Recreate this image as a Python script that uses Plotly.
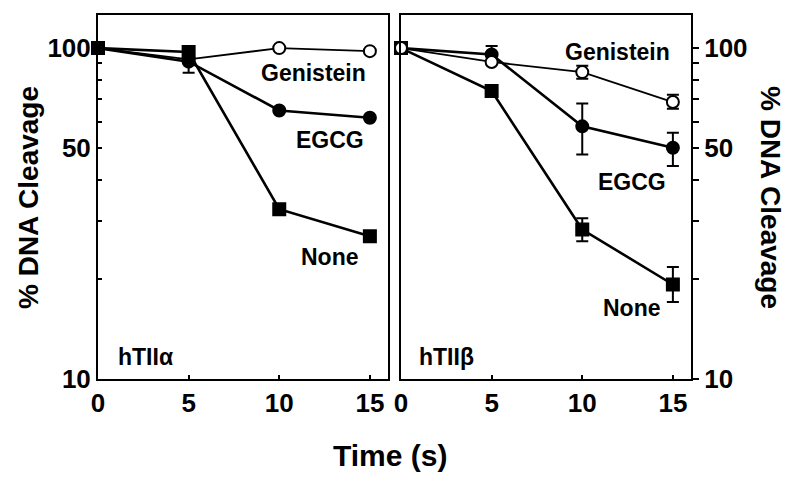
import plotly.graph_objects as go

# ---- data ----
time = [0, 5, 10, 15]

# hTIIalpha panel
a_none = [100, 97.3, 32.6, 27.0]
a_none_err = [0, 0, 0, 0.9]
a_egcg = [100, 91.0, 64.8, 61.6]
a_egcg_err = [0, 6.7, 0, 0]
a_gen = [100, 92.4, 100, 97.9]

# hTIIbeta panel
b_none = [100, 74.2, 28.3, 19.3]
b_none_plus = [0, 0, 2.3, 2.5]
b_none_minus = [0, 0, 2.2, 2.2]
b_egcg = [100, 95.7, 58.0, 50.0]
b_egcg_plus = [0, 5.7, 10.0, 5.5]
b_egcg_minus = [0, 5.7, 10.3, 6.0]
b_gen = [100, 90.8, 84.6, 68.7]
b_gen_plus = [0, 0, 3.8, 3.6]
b_gen_minus = [0, 0, 3.8, 3.1]

y_tickvals = [10, 20, 30, 40, 50, 60, 70, 80, 90, 100]
y_ticktext = ["10", "", "", "", "50", "", "", "", "", "100"]
x_tickvals = [0, 5, 10, 15]

FONT = "Liberation Sans, Arial, sans-serif"
W, H = 789, 478


def px(x):
    return x / W


def py(y):
    return 1 - y / H


fig = go.Figure()


def add(x, y, xa, ya, symbol, filled, lw, plus=None, minus=None, size=12):
    err = None
    if plus is not None:
        err = dict(type="data", array=plus, arrayminus=minus if minus is not None else plus,
                   color="black", thickness=2, width=6, visible=True)
    fig.add_trace(go.Scatter(
        x=x, y=y, xaxis=xa, yaxis=ya, mode="lines+markers",
        line=dict(color="black", width=lw),
        marker=dict(symbol=symbol, size=size,
                    color="black" if filled else "white",
                    line=dict(color="black", width=2)),
        error_y=err, cliponaxis=False, showlegend=False))


# left panel
add(time, a_gen, "x", "y", "circle", False, 1.8)
add(time, a_egcg, "x", "y", "circle", True, 2.6, a_egcg_err, a_egcg_err)
add(time, a_none, "x", "y", "square", True, 2.6, a_none_err, a_none_err, size=12)

# right panel
add(time, b_egcg, "x2", "y2", "circle", True, 2.6, b_egcg_plus, b_egcg_minus)
add(time, b_none, "x2", "y2", "square", True, 2.6, b_none_plus, b_none_minus, size=12)
add(time, b_gen, "x2", "y2", "circle", False, 1.8, b_gen_plus, b_gen_minus)

tickfont = dict(family=FONT, size=26, color="black", weight="bold")

xcommon = dict(range=[0, 16], tickvals=x_tickvals, ticks="inside", ticklen=4, tickwidth=2,
               tickcolor="black", showline=True, linewidth=2, linecolor="black", mirror=True,
               showgrid=False, zeroline=False, tickfont=tickfont, automargin=False)
ycommon = dict(type="log", range=[1, 2.1], tickvals=y_tickvals, ticktext=y_ticktext,
               tickwidth=2, tickcolor="black", showline=True, linewidth=2, linecolor="black",
               mirror=True, showgrid=False, zeroline=False, tickfont=tickfont,
               domain=[py(379), py(15)], automargin=False)

fig.update_layout(
    width=W, height=H, margin=dict(l=0, r=0, t=0, b=0),
    paper_bgcolor="white", plot_bgcolor="white",
    xaxis=dict(domain=[px(98), px(388)], anchor="y", **xcommon),
    yaxis=dict(anchor="x", side="left", ticks="inside", ticklen=4, **ycommon),
    xaxis2=dict(domain=[px(401), px(691)], anchor="y2", **xcommon),
    yaxis2=dict(anchor="x2", side="right", ticks="outside", ticklen=6, **ycommon),
)

afont = dict(family=FONT, size=23, color="black", weight="bold")
labels = [
    ("Genistein", 313, 73), ("EGCG", 330, 140), ("None", 330, 257), ("hTII\u03b1", 145, 357),
    ("Genistein", 617, 52), ("EGCG", 632, 182), ("None", 632, 308), ("hTII\u03b2", 447, 357),
]
for t, x, y in labels:
    fig.add_annotation(text=t, x=px(x), y=py(y), xref="paper", yref="paper",
                       showarrow=False, font=afont, xanchor="center", yanchor="middle")

yfont = dict(family=FONT, size=28, color="black", weight="bold")
fig.add_annotation(text="% DNA Cleavage", x=px(28), y=py(198), xref="paper", yref="paper",
                   showarrow=False, textangle=-90, font=yfont, xanchor="center", yanchor="middle")
fig.add_annotation(text="% DNA Cleavage", x=px(771), y=py(197), xref="paper", yref="paper",
                   showarrow=False, textangle=90, font=yfont, xanchor="center", yanchor="middle")
tfont = dict(family=FONT, size=30, color="black", weight="bold")
fig.add_annotation(text="Time (s)", x=px(390), y=py(455), xref="paper", yref="paper",
                   showarrow=False, font=tfont, xanchor="center", yanchor="middle")

fig.write_html("out.html", config={"displayModeBar": False},
               post_script="document.body.style.margin='0';document.body.style.overflow='hidden';")
